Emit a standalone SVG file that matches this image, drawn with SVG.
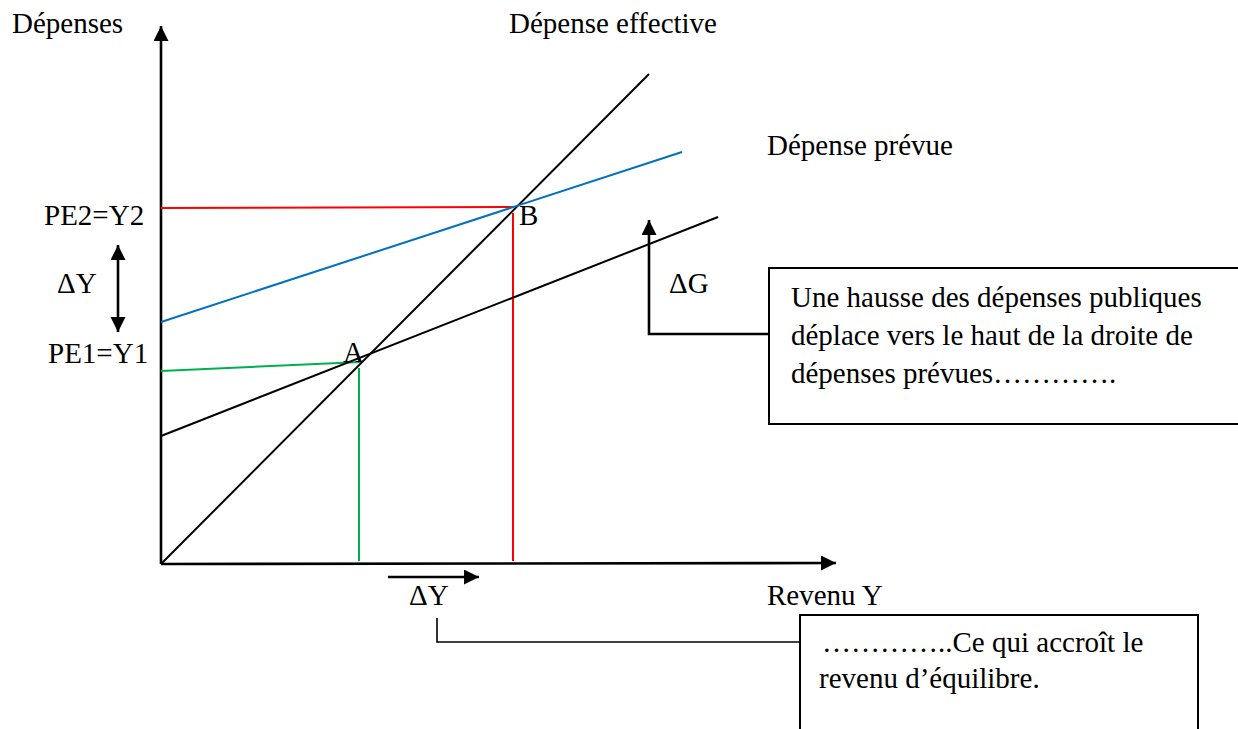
<svg xmlns="http://www.w3.org/2000/svg" width="1238" height="729" viewBox="0 0 1238 729">
<style>
text{font-family:"Liberation Serif","Times New Roman",serif;font-size:29px;fill:#000}
.ax{stroke:#000;stroke-width:2.6;fill:none}
.ln{stroke:#000;stroke-width:2;fill:none}
.thin{stroke:#000;stroke-width:1.6;fill:none}
.red{stroke:#FF0000;stroke-width:2;fill:none}
.blue{stroke:#0070C0;stroke-width:2;fill:none}
.green{stroke:#00B050;stroke-width:2;fill:none}
.box{fill:#fff;stroke:#000;stroke-width:2}
</style>
<defs>
<marker id="ah" markerUnits="userSpaceOnUse" markerWidth="16" markerHeight="16" refX="15" refY="7.5" orient="auto-start-reverse" viewBox="0 0 16 16">
<path d="M0,0 L15,7.5 L0,15 z" fill="#000"/>
</marker>
</defs>
<rect width="1238" height="729" fill="#fff"/>
<g id="connectors">
<line class="ax" x1="161" y1="564" x2="161" y2="26" marker-end="url(#ah)"/>
<line class="ax" x1="161" y1="564" x2="836" y2="563" marker-end="url(#ah)"/>
<line class="red" x1="161" y1="208" x2="513" y2="207"/>
<line class="red" x1="513" y1="213" x2="513" y2="561"/>
<line class="green" x1="161" y1="371" x2="361" y2="362"/>
<line class="green" x1="359" y1="368" x2="359" y2="561"/>
<line class="ln" x1="161" y1="564" x2="649" y2="74"/>
<line class="blue" x1="161" y1="322" x2="682" y2="152"/>
<line class="ln" x1="161" y1="436" x2="718" y2="217"/>
<line class="ax" x1="118" y1="245" x2="118" y2="332" marker-start="url(#ah)" marker-end="url(#ah)"/>
<polyline class="ax" points="769,334 649,334 649,220" marker-end="url(#ah)"/>
<line class="ax" x1="388" y1="577" x2="479" y2="577" marker-end="url(#ah)"/>
<polyline class="thin" points="437,618 437,642 799,642"/>
</g>
<g id="labels">
<text x="12" y="33">Dépenses</text>
<text x="509" y="33">Dépense effective</text>
<text x="767" y="155">Dépense prévue</text>
<text x="44" y="225">PE2=Y2</text>
<text x="57" y="293">ΔY</text>
<text x="48" y="363">PE1=Y1</text>
<text x="343" y="362">A</text>
<text x="519" y="225">B</text>
<text x="669" y="293">ΔG</text>
<text x="409" y="605">ΔY</text>
<text x="767" y="605">Revenu Y</text>
</g>
<g id="box1">
<rect class="box" x="769" y="268" width="480" height="156"/>
<text x="791" y="307">Une hausse des dépenses publiques</text>
<text x="791" y="345">déplace vers le haut de la droite de</text>
<text x="791" y="383">dépenses prévues………….</text>
</g>
<g id="box2">
<rect class="box" x="800" y="615" width="398" height="130"/>
<text x="822" y="652">…………..Ce qui accroît le</text>
<text x="819" y="688">revenu d’équilibre.</text>
</g>
</svg>
